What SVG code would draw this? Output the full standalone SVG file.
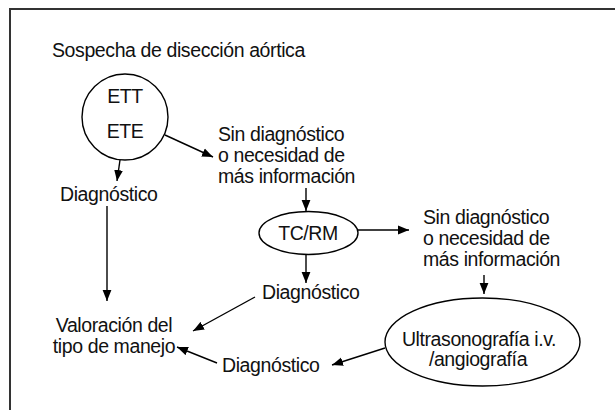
<svg xmlns="http://www.w3.org/2000/svg" width="615" height="410" viewBox="0 0 615 410">
<defs>
<marker id="ah" viewBox="0 0 11 10" refX="11" refY="5" markerWidth="11" markerHeight="10" markerUnits="userSpaceOnUse" orient="auto">
<path d="M0,0.6 L11,5 L0,9.4 z" fill="#000"/>
</marker>
<style>
text{font-family:"Liberation Sans",Arial,sans-serif;font-size:19.5px;letter-spacing:-0.4px;fill:#111}
.c{text-anchor:middle}
.shape{fill:#fff;stroke:#000;stroke-width:1.4}
.conn line{stroke:#000;stroke-width:1.4;marker-end:url(#ah)}
</style>
</defs>
<rect width="615" height="410" fill="#fff"/>
<rect x="10" y="9" width="640" height="440" fill="none" stroke="#333" stroke-width="2"/>
<g id="title"><text x="52" y="57">Sospecha de disección aórtica</text></g>
<g id="ett-ete">
<circle class="shape" cx="125" cy="117" r="43"/>
<text class="c" x="125" y="103">ETT</text>
<text class="c" x="125" y="138">ETE</text>
</g>
<g id="diag1"><text x="60" y="201">Diagnóstico</text></g>
<g id="sindiag1">
<text x="218" y="141">Sin diagnóstico</text>
<text x="218" y="162">o necesidad de</text>
<text x="218" y="183">más información</text>
</g>
<g id="tcrm">
<ellipse class="shape" cx="308.5" cy="233" rx="49.5" ry="21.5"/>
<text class="c" x="308" y="240">TC/RM</text>
</g>
<g id="diag2"><text x="262" y="299">Diagnóstico</text></g>
<g id="sindiag2">
<text x="423" y="224">Sin diagnóstico</text>
<text x="423" y="245">o necesidad de</text>
<text x="423" y="266">más información</text>
</g>
<g id="valoracion">
<text class="c" x="114" y="332">Valoración del</text>
<text class="c" x="114" y="353">tipo de manejo</text>
</g>
<g id="diag3"><text x="222" y="372">Diagnóstico</text></g>
<g id="ultra">
<ellipse class="shape" cx="482.5" cy="342" rx="97.5" ry="44"/>
<text class="c" x="479" y="346">Ultrasonografía i.v.</text>
<text class="c" x="478" y="366">/angiografía</text>
</g>
<g id="connectors" class="conn">
<line x1="165" y1="135" x2="213" y2="157"/>
<line x1="120" y1="160" x2="117" y2="181"/>
<line x1="107" y1="206" x2="107" y2="301"/>
<line x1="306" y1="188" x2="306" y2="211"/>
<line x1="358" y1="230" x2="409" y2="230"/>
<line x1="306" y1="255" x2="306" y2="283"/>
<line x1="255" y1="297" x2="193" y2="331"/>
<line x1="484" y1="275" x2="484" y2="294"/>
<line x1="385" y1="348" x2="332" y2="365"/>
<line x1="217" y1="363" x2="177" y2="347"/>
</g>
</svg>
